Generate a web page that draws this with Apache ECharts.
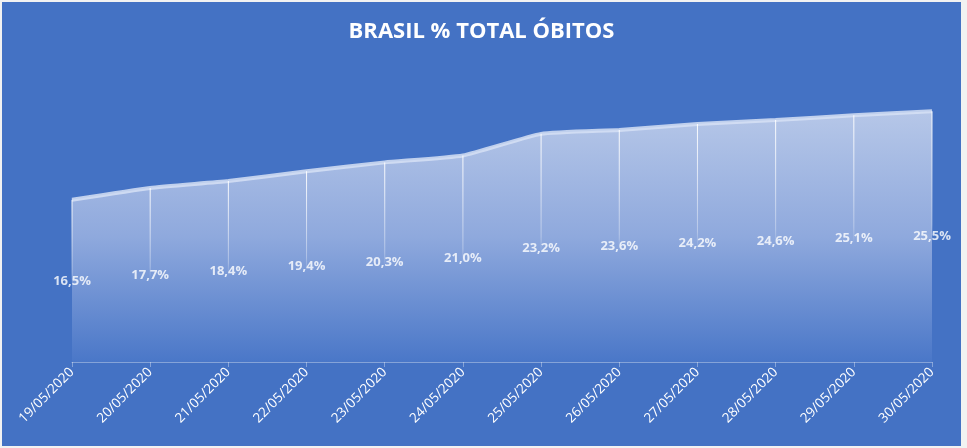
<!DOCTYPE html>
<html>
<head>
<meta charset="utf-8">
<script src="https://cdn.jsdelivr.net/npm/echarts@6/dist/echarts.min.js"></script>
<style>
html,body{margin:0;padding:0;background:#f2f2f2;}
#chart{position:absolute;left:2px;top:2px;width:959px;height:444px;}
</style>
</head>
<body>
<div id="chart"></div>
<script>
const categories = ['19/05/2020','20/05/2020','21/05/2020','22/05/2020','23/05/2020','24/05/2020','25/05/2020','26/05/2020','27/05/2020','28/05/2020','29/05/2020','30/05/2020'];
const percentObitos = [16.5, 17.7, 18.4, 19.4, 20.3, 21.0, 23.2, 23.6, 24.2, 24.6, 25.1, 25.5];
const titleText = 'BRASIL % TOTAL ÓBITOS';

const fmt = v => v.toFixed(1).replace('.', ',') + '%';
const chart = echarts.init(document.getElementById('chart'));
chart.setOption({
  backgroundColor: '#4472C4',
  animation: false,
  title: {
    text: titleText, left: 'center', top: 14,
    textStyle: {color: '#ffffff', fontFamily: 'Open Sans', fontWeight: 'bold', fontSize: 22}
  },
  grid: {left: 70, right: 29, top: 65, bottom: 84},
  xAxis: {
    type: 'category', data: categories, boundaryGap: false,
    axisLine: {lineStyle: {color: 'rgba(255,255,255,0.35)', width: 1}},
    axisTick: {show: true, alignWithLabel: true, length: 5, lineStyle: {color: 'rgba(255,255,255,0.35)'}},
    axisLabel: {rotate: 45, color: '#ffffff', fontFamily: 'Open Sans', fontSize: 13.5, margin: 8, interval: 0}
  },
  yAxis: {
    type: 'value', min: 0, max: 30, show: false, splitLine: {show: false}
  },
  series: [
    {
      type: 'line', data: percentObitos, smooth: 0.15, symbol: 'none', z: 2,
      lineStyle: {color: 'rgba(214,225,245,0.85)', width: 4},
      areaStyle: {
        opacity: 1,
        color: new echarts.graphic.LinearGradient(0, 0, 0, 1, [
          {offset: 0, color: '#b6c7e8'},
          {offset: 0.5, color: '#8fa9dd'},
          {offset: 1, color: '#4a77c8'}
        ]),
        origin: 'start'
      }
    },
    {
      type: 'bar', data: percentObitos, barWidth: 1, z: 3, silent: true,
      itemStyle: {
        color: new echarts.graphic.LinearGradient(0, 0, 0, 1, [
          {offset: 0, color: 'rgba(255,255,255,0.95)'},
          {offset: 0.45, color: 'rgba(255,255,255,0.35)'},
          {offset: 0.52, color: 'rgba(255,255,255,0)'},
          {offset: 1, color: 'rgba(255,255,255,0)'}
        ])
      }
    },
    {
      type: 'scatter', symbolSize: 0, z: 5, silent: true,
      data: percentObitos.map((v, i) => [i, v / 2, v]),
      label: {
        show: true, position: 'inside', color: '#ffffff', fontFamily: 'Open Sans',
        fontWeight: 'bold', fontSize: 13,
        formatter: p => fmt(p.data[2])
      }
    }
  ]
});
</script>
</body>
</html>
